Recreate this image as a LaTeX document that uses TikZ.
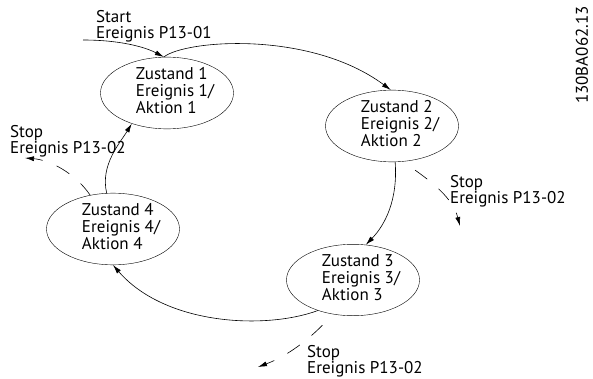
\documentclass[tikz,border=0pt]{standalone}
\usepackage{fontspec}
\setmainfont{PT Sans}
\usetikzlibrary{shapes.geometric,arrows.meta}

% Text im Zustand, etwas nach rechts geschoben
\newcommand{\zinhalt}[1]{\begin{tabular}{@{\hspace{16pt}}l@{}}#1\end{tabular}}

\begin{document}
\begin{tikzpicture}[x=1pt,y=-1pt,
  zustand/.style={draw, ellipse, minimum width=130pt, minimum height=69pt, inner sep=0pt,
                  font=\fontsize{17}{16}\selectfont},
  etikett/.style={inner sep=0pt, anchor=north west, align=left, font=\fontsize{17}{16.5}\selectfont},
  pfeil/.style={-{Latex[length=9pt,width=5pt]}, line width=0.6pt},
  stopp/.style={pfeil, dash pattern=on 15pt off 15pt}]

\useasboundingbox (0,0) rectangle (593,379);

% die vier Zustaende
\node[zustand] (z1) at (167,93) {\zinhalt{Zustand 1\\Ereignis 1/\\Aktion 1}};
\node[zustand] (z2) at (392,126) {\zinhalt{Zustand 2\\Ereignis 2/\\Aktion 2}};
\node[zustand] (z3) at (353,280) {\zinhalt{Zustand 3\\Ereignis 3/\\Aktion 3}};
\node[zustand] (z4) at (113,229) {\zinhalt{Zustand 4\\Ereignis 4/\\Aktion 4}};

% Beschriftungen
\node[etikett] (tstart) at (96,10) {Start\\Ereignis P13-01};
\node[etikett] (tstop1) at (10,125) {Stop\\Ereignis P13-02};
\node[etikett] (tstop2) at (450,175) {Stop\\Ereignis P13-02};
\node[etikett] (tstop3) at (307,345) {Stop\\Ereignis P13-02};
\node[rotate=90, inner sep=0pt, font=\fontsize{17}{17}\selectfont] (nr) at (582,55) {130BA062.13};

% freie Enden
\coordinate (start) at (83,40);
\coordinate (stop1) at (25,158);
\coordinate (stop2) at (460,226);
\coordinate (stop3) at (258,367);

% Uebergaenge
\draw[pfeil] (start) .. controls (120,40) and (145,47) .. (z1.95);
\draw[pfeil] (z1.95) .. controls (185,40) and (310,30) .. (z2.92);
\draw[pfeil] (z2.-85) .. controls (398,200) and (385,225) .. (z3.70);
\draw[pfeil] (z3.-139) .. controls (265,330) and (165,325) .. (z4.south);
\draw[pfeil] (z4.100) .. controls (100,165) and (120,143) .. (z1.-139);

% Stop (gestrichelt)
\draw[stopp] (z4.124) .. controls (75,173) and (50,160) .. (stop1);
\draw[stopp, dash phase=15pt] (z2.-73) .. controls (425,177) and (452,195) .. (stop2);
\draw[stopp, dash phase=15pt] (z3.-121) .. controls (315,335) and (290,355) .. (stop3);

\end{tikzpicture}
\end{document}
